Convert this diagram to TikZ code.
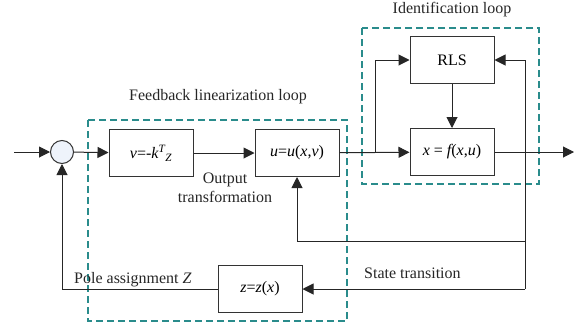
\documentclass[tikz,border=0pt]{standalone}
\usepackage{fontspec}
\setmainfont{Liberation Serif}
\usetikzlibrary{arrows.meta}
\definecolor{loopteal}{HTML}{2A8C8C}
\definecolor{sumfill}{HTML}{EEF3FB}
\begin{document}
\begin{tikzpicture}[
    x=1pt, y=-1pt,
    block/.style={rectangle, draw=black!80, line width=1pt, minimum width=84pt, minimum height=47pt, font=\fontsize{16}{18}\selectfont},
    sumnode/.style={circle, draw=black!80, line width=1pt, fill=sumfill, minimum size=23pt, inner sep=0pt},
    arr/.style={-{Triangle[length=11pt,width=11pt]}, line width=1pt, draw=black!85},
    loopbox/.style={draw=loopteal, line width=1.2pt, dash pattern=on 7pt off 4pt},
    lbl/.style={font=\fontsize{16}{19}\selectfont, text=black!85, inner sep=0pt}
]
    \useasboundingbox (0,0) rectangle (580,327);

    % dashed loops
    \draw[loopbox] (88,120) rectangle (347,321);
    \draw[loopbox] (362,28) rectangle (539,184);
    \node[lbl] (idlabel) at (452,10) {Identification loop};
    \node[lbl] (fblabel) at (218,97) {Feedback linearization loop};

    % blocks
    \node[sumnode] (sum) at (62,152) {};
    \node[block] (vbox) at (151,153) {\itshape v\upshape=-\itshape k\textsuperscript{T}\textsubscript{Z}};
    \node[block] (ubox) at (297,153) {\itshape u\upshape=\itshape u\upshape(\itshape x\upshape,\itshape v\upshape)};
    \node[block] (rls) at (452,60) {RLS};
    \node[block] (fbox) at (452,152) {\itshape x \upshape= \itshape f\upshape(\itshape x\upshape,\itshape u\upshape)};
    \node[block] (zbox) at (260,289) {\itshape z\upshape=\itshape z\upshape(\itshape x\upshape)};

    \coordinate (in) at (14,152);
    \coordinate (split) at (375,152);
    \coordinate (out) at (574,152);
    \coordinate (rbot) at (525,289);
    \coordinate (fb) at (525,241);

    % connectors
    \draw[arr] (in) -- (sum);
    \draw[arr] (sum) -- (vbox);
    \draw[arr] (vbox) -- (ubox);
    \draw[arr] (ubox) -- (fbox);
    \draw[arr] (split) |- (rls);
    \draw[arr] (rls) -- (fbox);
    \draw[arr] (fbox) -- (out);
    \draw[arr] (rbot) |- (rls);
    \draw[arr] (fb) -| (ubox);
    \draw[arr] (rbot) -- (zbox);
    \draw[arr] (zbox) -| (sum);

    \node[lbl, align=center] (outlabel) at (225,188) {Output\\transformation};
    \node[lbl, anchor=base west] (polelabel) at (74,283) {Pole assignment \itshape Z};
    \node[lbl, anchor=base west] (statelabel) at (364,278) {State transition};
\end{tikzpicture}
\end{document}
